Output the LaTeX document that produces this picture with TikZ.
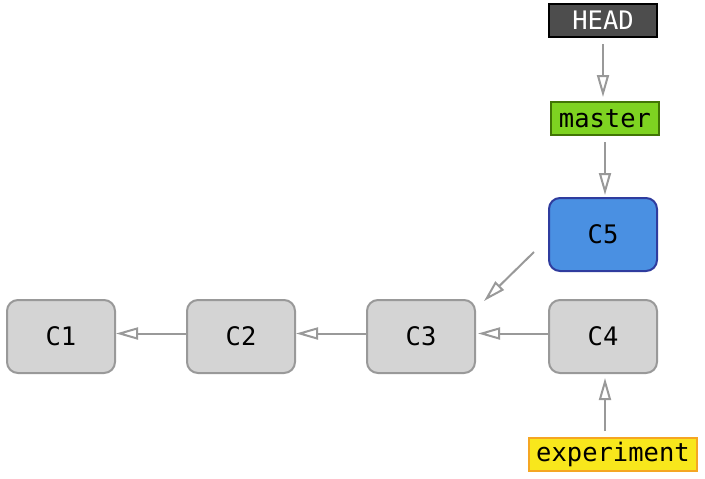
\documentclass[tikz,border=0pt]{standalone}
\usepackage{fontspec}
\setmonofont{DejaVu Sans Mono}
\usetikzlibrary{arrows.meta,calc}
\definecolor{cgray}{HTML}{D4D4D4}
\definecolor{cgrayb}{HTML}{999999}
\definecolor{cblue}{HTML}{4A90E2}
\definecolor{cblueb}{HTML}{2F3C9E}
\definecolor{chead}{HTML}{4D4D4D}
\definecolor{cgreen}{HTML}{7ED321}
\definecolor{cgreenb}{HTML}{417505}
\definecolor{cyellow}{HTML}{F8E71C}
\definecolor{cyellowb}{HTML}{F5A623}
\definecolor{carrow}{HTML}{999999}
\tikzset{
  commit/.style={draw=cgrayb, fill=cgray, line width=2pt, rounded corners=11pt,
    minimum width=108pt, minimum height=73pt, inner sep=0pt,
    font=\ttfamily\fontsize{25.5}{28}\selectfont},
  ref/.style={line width=2pt, minimum height=33pt, inner sep=0pt,
    font=\ttfamily\fontsize{25.5}{28}\selectfont},
  conn/.style={draw=carrow, line width=2pt,
    -{Triangle[open,length=22pt,width=12pt,line width=2pt]}},
}
\begin{document}
\begin{tikzpicture}[x=1pt,y=-1pt]
\useasboundingbox (0,0) rectangle (705,479);
\node[commit] (C1) at (61,336.5) {C1};
\node[commit] (C2) at (241,336.5) {C2};
\node[commit] (C3) at (421,336.5) {C3};
\node[commit] (C4) at (603,336.5) {C4};
\node[commit, fill=cblue, draw=cblueb] (C5) at (603,234.5) {C5};
\node[ref, draw=black, fill=chead, text=white, minimum width=108pt] (HEAD) at (603,20.5) {HEAD};
\node[ref, draw=cgreenb, fill=cgreen, minimum width=108pt] (master) at (605,118.5) {master};
\node[ref, draw=cyellowb, fill=cyellow, minimum width=168pt] (experiment) at (613,454.5) {experiment};

\draw[conn, shorten <=6pt, shorten >=4pt] (HEAD.south) -- (master.north -| HEAD.south);
\draw[conn, shorten <=6pt, shorten >=2pt] (master.south) -- (C5.north -| master.south);
\draw[conn] ($(C5.west)+(-14,17.5)$) -- ($(C3.north east)+(8,2)$);
\draw[conn, shorten >=2pt] ([yshift=3pt]C4.west) -- ([yshift=3pt]C3.east);
\draw[conn] ([yshift=3pt]C3.west) -- ([yshift=3pt]C2.east);
\draw[conn] ([yshift=3pt]C2.west) -- ([yshift=3pt]C1.east);
\draw[conn, shorten <=6pt, shorten >=4pt] ([xshift=-8pt]experiment.north) -- ([xshift=2pt]C4.south);
\end{tikzpicture}
\end{document}
